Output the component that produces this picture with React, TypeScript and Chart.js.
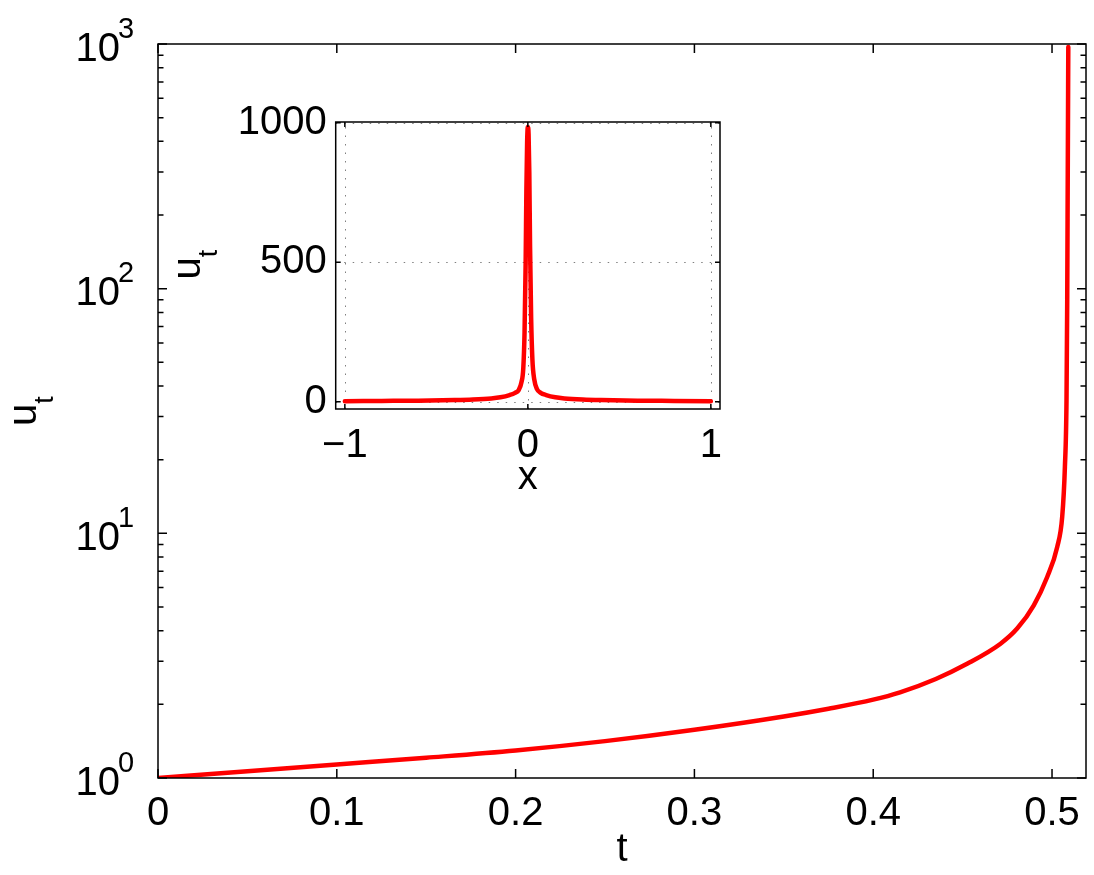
import React, { useEffect, useRef } from 'react';
import { Chart, registerables } from 'chart.js';

Chart.register(...registerables);

// ---------- data ----------
const mainT = [0, 0.05, 0.1, 0.15, 0.2, 0.25, 0.3, 0.35, 0.375, 0.4, 0.415, 0.435, 0.4525, 0.4712, 0.4805, 0.4898, 0.4973, 0.5029, 0.5057, 0.5072, 0.5081, 0.5085, 0.5088, 0.5091];
const mainU = [1, 1.066, 1.136, 1.21, 1.296, 1.415, 1.575, 1.785, 1.92, 2.09, 2.24, 2.54, 2.93, 3.54, 4.08, 5.08, 6.63, 8.8, 11.7, 18.7, 35, 90, 300, 972];
const mainXTicks = [0, 0.1, 0.2, 0.3, 0.4, 0.5];
const mainYTicks = [1, 10, 100, 1000];
const mainYExponents = ['0', '1', '2', '3'];

const insetX = [-1, -0.8, -0.6, -0.4, -0.3, -0.2, -0.15, -0.1, -0.07, -0.05, -0.035, -0.025, -0.018, -0.012, -0.008, -0.004, 0, 0.004, 0.008, 0.012, 0.018, 0.025, 0.035, 0.05, 0.07, 0.1, 0.15, 0.2, 0.3, 0.4, 0.6, 0.8, 1];
const insetU = [2, 3, 4, 6, 8, 12, 16, 24, 32, 42, 70, 120, 250, 500, 760, 930, 985, 960, 820, 560, 300, 150, 80, 45, 32, 24, 16, 12, 8, 6, 4, 3, 2];
const insetXTicks = [-1, 0, 1];
const insetYTicks = [0, 500, 1000];

const FONT = '"Liberation Sans", Arial, Helvetica, sans-serif';
const TICK_SIZE = 40;

function drawRotatedLabel(ctx: CanvasRenderingContext2D, bx: number, by: number, main: string, sub: string) {
  ctx.save();
  ctx.translate(bx, by);
  ctx.rotate(-Math.PI / 2);
  ctx.fillStyle = '#000';
  ctx.textAlign = 'left';
  ctx.textBaseline = 'alphabetic';
  ctx.font = `40px ${FONT}`;
  ctx.fillText(main, 0, 0);
  const w = ctx.measureText(main).width;
  ctx.font = `27px ${FONT}`;
  ctx.fillText(sub, w, 17);
  ctx.restore();
}

const mainAxesPlugin = {
  id: 'mainAxes',
  afterDraw(chart: any) {
    const { ctx, chartArea, scales } = chart;
    const { left, right, top, bottom } = chartArea;
    const x = scales.x;
    const y = scales.y;
    ctx.save();
    ctx.strokeStyle = '#000';
    ctx.lineWidth = 1.5;
    ctx.strokeRect(left, top, right - left, bottom - top);
    ctx.beginPath();
    for (const v of mainXTicks) {
      const px = x.getPixelForValue(v);
      ctx.moveTo(px, bottom);
      ctx.lineTo(px, bottom - 9);
      ctx.moveTo(px, top);
      ctx.lineTo(px, top + 9);
    }
    for (let d = 1; d <= 1000; d *= 10) {
      for (let m = 1; m <= 9; m++) {
        const v = d * m;
        if (v > 1000) break;
        const len = m === 1 ? 9 : 5.5;
        const py = y.getPixelForValue(v);
        ctx.moveTo(left, py);
        ctx.lineTo(left + len, py);
        ctx.moveTo(right, py);
        ctx.lineTo(right - len, py);
      }
    }
    ctx.stroke();
    // y tick labels 10^n
    ctx.fillStyle = '#000';
    ctx.textBaseline = 'alphabetic';
    mainYTicks.forEach((v, i) => {
      const py = y.getPixelForValue(v);
      ctx.font = `${TICK_SIZE}px ${FONT}`;
      ctx.textAlign = 'right';
      ctx.fillText('10', 120, py + 16.5);
      ctx.font = `29px ${FONT}`;
      ctx.textAlign = 'left';
      ctx.fillText(mainYExponents[i], 118, py + 16.5 - 23);
    });
    drawRotatedLabel(ctx, 36, 426, 'u', 't');
    ctx.restore();
  },
};

const INSET_TOP = 89;

const insetAxesPlugin = {
  id: 'insetAxes',
  beforeDatasetsDraw(chart: any) {
    const { ctx, chartArea, scales } = chart;
    const { left, right, top, bottom } = chartArea;
    const x = scales.x;
    const y = scales.y;
    ctx.save();
    ctx.strokeStyle = '#808080';
    ctx.lineWidth = 1;
    ctx.setLineDash([1.5, 7]);
    ctx.beginPath();
    for (const v of insetXTicks) {
      const px = Math.round(x.getPixelForValue(v)) + 0.5;
      ctx.moveTo(px, bottom);
      ctx.lineTo(px, top);
    }
    for (const v of insetYTicks) {
      const py = Math.round(y.getPixelForValue(v)) + 0.5;
      ctx.moveTo(left, py);
      ctx.lineTo(right, py);
    }
    ctx.stroke();
    ctx.restore();
  },
  afterDraw(chart: any) {
    const { ctx, chartArea, scales } = chart;
    const { left, right, top, bottom } = chartArea;
    const x = scales.x;
    const y = scales.y;
    ctx.save();
    ctx.strokeStyle = '#000';
    ctx.lineWidth = 1.5;
    ctx.strokeRect(left, top, right - left, bottom - top);
    ctx.beginPath();
    for (const v of insetXTicks) {
      const px = x.getPixelForValue(v);
      ctx.moveTo(px, bottom);
      ctx.lineTo(px, bottom - 5);
      ctx.moveTo(px, top);
      ctx.lineTo(px, top + 5);
    }
    for (const v of insetYTicks) {
      const py = y.getPixelForValue(v);
      ctx.moveTo(left, py);
      ctx.lineTo(left + 5, py);
      ctx.moveTo(right, py);
      ctx.lineTo(right - 5, py);
    }
    ctx.stroke();
    drawRotatedLabel(ctx, 35, 279.6 - INSET_TOP, 'u', 't');
    ctx.restore();
  },
};

export default function App() {
  const mainRef = useRef<HTMLCanvasElement>(null);
  const insetRef = useRef<HTMLCanvasElement>(null);

  useEffect(() => {
    const mainChart = new Chart(mainRef.current as HTMLCanvasElement, {
      type: 'line',
      data: {
        datasets: [
          {
            data: mainT.map((t, i) => ({ x: t, y: mainU[i] })),
            borderColor: '#ff0000',
            borderWidth: 4.5,
            pointRadius: 0,
            fill: false,
            cubicInterpolationMode: 'monotone',
            borderJoinStyle: 'round',
            borderCapStyle: 'round',
          } as any,
        ],
      },
      options: {
        responsive: false,
        animation: false,
        devicePixelRatio: 1,
        events: [],
        layout: { padding: { left: 0, top: 44, right: 8, bottom: 0 } },
        plugins: { legend: { display: false }, tooltip: { enabled: false } },
        scales: {
          x: {
            type: 'linear',
            min: 0,
            max: 0.519,
            afterBuildTicks: (s: any) => {
              s.ticks = mainXTicks.map((v) => ({ value: v }));
            },
            afterFit: (s: any) => {
              s.height = 97;
            },
            grid: { display: false, drawTicks: false },
            border: { display: false },
            ticks: {
              font: { family: FONT, size: TICK_SIZE },
              color: '#000',
              padding: 12,
              maxRotation: 0,
              autoSkip: false,
              callback: (v: any) => String(v),
            },
            title: {
              display: true,
              text: 't',
              font: { family: FONT, size: 40 },
              color: '#000',
              padding: { top: 0, bottom: 1 },
            },
          },
          y: {
            type: 'logarithmic',
            min: 1,
            max: 1000,
            afterBuildTicks: (s: any) => {
              s.ticks = mainYTicks.map((v) => ({ value: v }));
            },
            afterFit: (s: any) => {
              s.width = 158;
            },
            grid: { display: false, drawTicks: false },
            border: { display: false },
            ticks: { display: false },
          },
        },
      } as any,
      plugins: [mainAxesPlugin],
    });

    const insetChart = new Chart(insetRef.current as HTMLCanvasElement, {
      type: 'line',
      data: {
        datasets: [
          {
            data: insetX.map((xv, i) => ({ x: xv, y: insetU[i] })),
            borderColor: '#ff0000',
            borderWidth: 4.5,
            pointRadius: 0,
            fill: false,
            cubicInterpolationMode: 'monotone',
            borderJoinStyle: 'round',
            borderCapStyle: 'round',
          } as any,
        ],
      },
      options: {
        responsive: false,
        animation: false,
        devicePixelRatio: 1,
        events: [],
        layout: { padding: { left: 0, top: 0, right: 20, bottom: 0 } },
        plugins: { legend: { display: false }, tooltip: { enabled: false } },
        scales: {
          x: {
            type: 'linear',
            min: -1.05,
            max: 1.05,
            afterBuildTicks: (s: any) => {
              s.ticks = insetXTicks.map((v) => ({ value: v }));
            },
            afterFit: (s: any) => {
              s.height = 93;
            },
            grid: { display: false, drawTicks: false },
            border: { display: false },
            ticks: {
              font: { family: FONT, size: TICK_SIZE },
              color: '#000',
              padding: 13,
              maxRotation: 0,
              autoSkip: false,
              callback: (v: any) => (v < 0 ? '\u2212' + String(-v) : String(v)),
            },
            title: {
              display: true,
              text: 'x',
              font: { family: FONT, size: 40 },
              color: '#000',
              padding: { top: 0, bottom: 0 },
            },
          },
          y: {
            type: 'linear',
            min: -26,
            max: 1003,
            afterBuildTicks: (s: any) => {
              s.ticks = insetYTicks.map((v) => ({ value: v }));
            },
            afterFit: (s: any) => {
              s.width = 170.7;
            },
            grid: { display: false, drawTicks: false },
            border: { display: false },
            ticks: {
              font: { family: FONT, size: TICK_SIZE },
              color: '#000',
              padding: 9,
              autoSkip: false,
              callback: (v: any) => String(v),
            },
          },
        },
      } as any,
      plugins: [insetAxesPlugin],
    });

    return () => {
      mainChart.destroy();
      insetChart.destroy();
    };
  }, []);

  return (
    <div style={{ position: 'absolute', left: 0, top: 0, width: 1094, height: 875, background: '#fff' }}>
      <canvas
        ref={mainRef}
        width={1094}
        height={875}
        style={{ position: 'absolute', left: 0, top: 0, width: 1094, height: 875 }}
      />
      <canvas
        ref={insetRef}
        width={575}
        height={413}
        style={{ position: 'absolute', left: 165, top: INSET_TOP, width: 575, height: 413 }}
      />
    </div>
  );
}
